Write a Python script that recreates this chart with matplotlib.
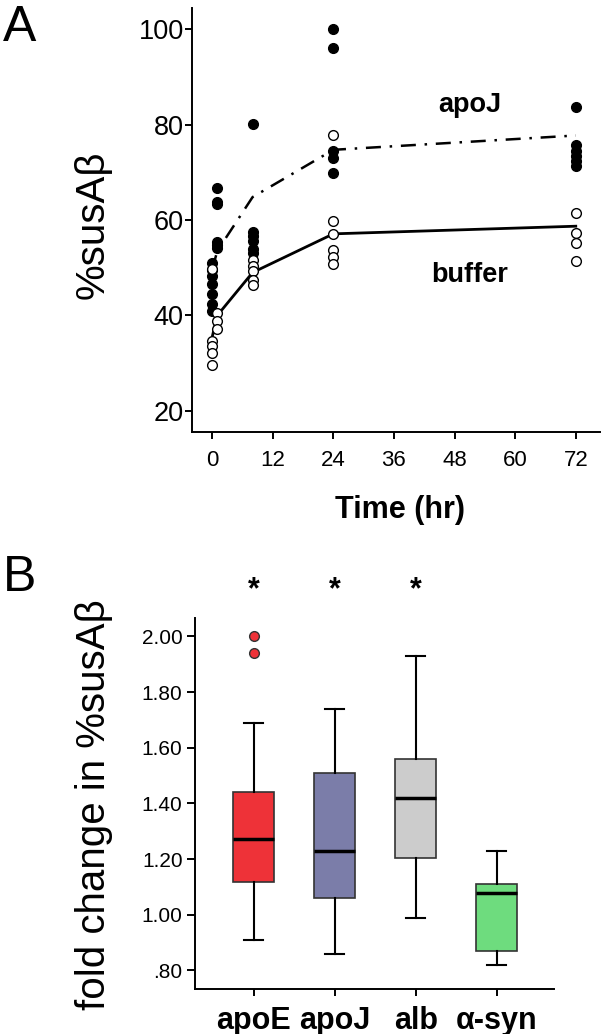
import matplotlib
matplotlib.use('Agg')
import matplotlib.pyplot as plt

plt.rcParams['font.family'] = ['Liberation Sans', 'DejaVu Sans']

# panel A: individual points
apoj_time = [0, 0, 0, 0, 0, 0, 0,
             1, 1, 1, 1, 1, 1,
             8, 8, 8, 8, 8, 8,
             24, 24, 24, 24, 24,
             72, 72, 72, 72, 72, 72]
apoj_vals = [51.0, 49.6, 48.2, 46.7, 44.6, 42.5, 40.9,
             66.6, 63.7, 63.4, 55.3, 54.8, 54.1,
             80.2, 57.5, 56.6, 55.5, 53.9, 53.0,
             100.0, 96.0, 74.4, 73.0, 69.8,
             83.7, 75.7, 74.4, 73.3, 72.3, 71.4]

buffer_time = [0, 0, 0, 0, 0,
               1, 1, 1,
               8, 8, 8, 8, 8,
               24, 24, 24, 24, 24, 24,
               72, 72, 72, 72]
buffer_vals = [49.8, 34.6, 33.6, 32.1, 29.6,
               40.6, 38.8, 37.1,
               51.7, 50.3, 49.3, 47.5, 46.3,
               77.7, 59.7, 57.1, 53.8, 52.3, 50.7,
               61.4, 57.3, 55.2, 51.4]

# panel A: mean lines
line_time = [0, 1, 8, 24, 72]
apoj_mean = [49.6, 53.5, 64.8, 74.7, 77.7]
buffer_mean = [35.5, 40.0, 49.0, 57.1, 58.7]

# panel B: box stats
groups = ['apoE', 'apoJ', 'alb', 'α-syn']
whislo = [0.909, 0.859, 0.988, 0.818]
q1 = [1.119, 1.059, 1.205, 0.868]
med = [1.271, 1.230, 1.419, 1.077]
q3 = [1.440, 1.510, 1.558, 1.110]
whishi = [1.689, 1.739, 1.931, 1.229]
fliers = [[2.00, 1.939], [], [], []]
box_colors = ['#EE3238', '#7B7DA9', '#CCCCCC', '#6EDC7E']
signif = [True, True, True, False]

fig = plt.figure(figsize=(6.08, 10.34), dpi=100)

# ---------- panel A ----------
ax1 = fig.add_axes([192/608, 1 - 432/1034, (600-192)/608, (432-8)/1034])
ax1.plot(line_time, apoj_mean, color='black', lw=1.8,
         linestyle=(0, (6, 3.5, 1, 3.5)), zorder=2)
ax1.plot(line_time, buffer_mean, color='black', lw=2.0, zorder=2)
ax1.plot(apoj_time, apoj_vals, 'o', color='black', ms=7, zorder=3)
ax1.plot(buffer_time, buffer_vals, 'o', mfc='white', mec='black', mew=1.0, ms=7, zorder=3)

ax1.set_xlim(-4.0, 76.8)
ax1.set_ylim(15.6, 104.4)
ax1.set_xticks([0, 12, 24, 36, 48, 60, 72])
ax1.set_yticks([20, 40, 60, 80, 100])
ax1.tick_params(axis='y', labelsize=19.5, width=1.4, length=5, pad=1)
ax1.tick_params(axis='x', labelsize=16, width=1.4, length=5, pad=8)
for s in ['top', 'right']:
    ax1.spines[s].set_visible(False)
for s in ['left', 'bottom']:
    ax1.spines[s].set_linewidth(1.4)

ax1.text(51, 84.0, 'apoJ', fontsize=19.5, fontweight='bold', ha='center', va='center')
ax1.text(51, 48.4, 'buffer', fontsize=19.5, fontweight='bold', ha='center', va='center')

fig.text(93/608, 1 - 225/1034, '%susAβ', rotation=90, fontsize=29,
         ha='center', va='center')
fig.text(400/608, 1 - 510/1034, 'Time (hr)', fontsize=22, fontweight='bold',
         ha='center', va='center')
fig.text(20/608, 1 - 28/1034, 'A', fontsize=36, ha='center', va='center')

# ---------- panel B ----------
ax2 = fig.add_axes([195/608, 1 - 989/1034, (554-195)/608, (989-618)/1034])
stats = []
for i in range(len(groups)):
    stats.append({'whislo': whislo[i], 'q1': q1[i], 'med': med[i],
                  'q3': q3[i], 'whishi': whishi[i], 'fliers': fliers[i]})
pos = list(range(1, len(groups) + 1))
bp = ax2.bxp(stats, positions=pos, widths=0.5, capwidths=0.24,
             patch_artist=True, showfliers=True,
             boxprops=dict(edgecolor='#333333', linewidth=1.2),
             medianprops=dict(color='black', linewidth=2.5),
             whiskerprops=dict(color='black', linewidth=1.5),
             capprops=dict(color='black', linewidth=1.5),
             flierprops=dict(marker='o', markerfacecolor='#EE3238',
                             markeredgecolor='#333333', markersize=7))
for patch, c in zip(bp['boxes'], box_colors):
    patch.set_facecolor(c)

for i, s in enumerate(signif):
    if s:
        ax2.text(pos[i], 2.165, '*', fontsize=22, fontweight='bold',
                 ha='center', va='center', clip_on=False)

ax2.set_xlim(0.275, 4.707)
ax2.set_ylim(0.733, 2.066)
ax2.set_yticks([0.8, 1.0, 1.2, 1.4, 1.6, 1.8, 2.0])
ax2.set_yticklabels(['.80', '1.00', '1.20', '1.40', '1.60', '1.80', '2.00'])
ax2.set_xticks(pos)
ax2.set_xticklabels(groups, fontweight='bold')
ax2.tick_params(axis='y', labelsize=15, width=1.4, length=6, pad=3)
ax2.tick_params(axis='x', labelsize=22, width=1.4, length=5, pad=7)
for s in ['top', 'right']:
    ax2.spines[s].set_visible(False)
for s in ['left', 'bottom']:
    ax2.spines[s].set_linewidth(1.4)

fig.text(94/608, 1 - 805/1034, 'fold change in %susAβ', rotation=90, fontsize=29,
         ha='center', va='center')
fig.text(20/608, 1 - 578/1034, 'B', fontsize=36, ha='center', va='center')

fig.savefig('out.png', dpi=100)
